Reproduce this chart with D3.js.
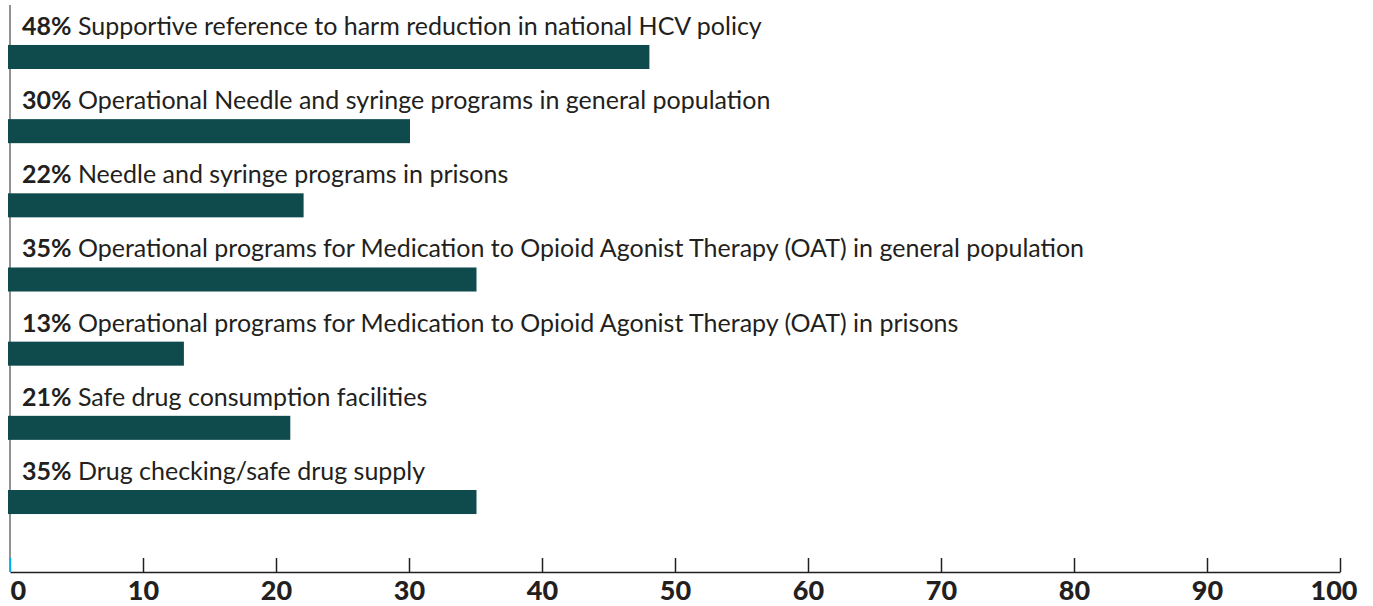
<!DOCTYPE html>
<html>
<head>
<meta charset="utf-8">
<script src="https://cdn.jsdelivr.net/npm/d3@7"></script>
<style>
  body { margin: 0; background: #fff; }
  text { font-family: Lato, "Open Sans", sans-serif; fill: #231f20; }
</style>
</head>
<body>
<div id="chart"></div>
<script>
// data
var categories = [
  "Supportive reference to harm reduction in national HCV policy",
  "Operational Needle and syringe programs in general population",
  "Needle and syringe programs in prisons",
  "Operational programs for Medication to Opioid Agonist Therapy (OAT) in general population",
  "Operational programs for Medication to Opioid Agonist Therapy (OAT) in prisons",
  "Safe drug consumption facilities",
  "Drug checking/safe drug supply"
];
var values = [48, 30, 22, 35, 13, 21, 35];
var tickValues = [0, 10, 20, 30, 40, 50, 60, 70, 80, 90, 100];

function init() {
  var w = 1373;
  var h = 606;
  var axisY = 572;

  var dataset = categories.map(function(c, i) {
    return { label: c, value: values[i] };
  });

  var xScale = d3.scaleLinear()
    .domain([0, 100])
    .range([10, 1340]);

  // band scale: bar height 24, step ~74
  var yScale = d3.scaleBand()
    .domain(categories)
    .range([19.9, 539.1])
    .paddingInner(0.676)
    .paddingOuter(0.338);

  var svg = d3.select("#chart")
    .append("svg")
    .attr("width", w)
    .attr("height", h);

  // vertical baseline
  svg.append("line")
    .attr("x1", xScale(0))
    .attr("x2", xScale(0))
    .attr("y1", 5)
    .attr("y2", axisY)
    .attr("stroke", "#6d6e71")
    .attr("stroke-width", 1.5);

  // bars
  svg.selectAll("rect.bar")
    .data(dataset)
    .enter()
    .append("rect")
    .attr("class", "bar")
    .attr("x", xScale(0) - 2)
    .attr("y", function(d) { return yScale(d.label); })
    .attr("width", function(d) { return xScale(d.value) - xScale(0) + 3; })
    .attr("height", yScale.bandwidth())
    .attr("fill", "#0f4a4c");

  // labels above bars
  var labels = svg.selectAll("text.label")
    .data(dataset)
    .enter()
    .append("text")
    .attr("class", "label")
    .attr("x", xScale(0) + 12)
    .attr("y", function(d) { return yScale(d.label) - 10; })
    .style("font-size", "25px");

  labels.append("tspan")
    .style("font-weight", "bold")
    .text(function(d) { return d.value + "%"; });

  labels.append("tspan")
    .text(function(d) { return " " + d.label; });

  // x axis
  var xAxis = d3.axisBottom(xScale)
    .tickValues(tickValues)
    .tickSizeInner(-14)
    .tickSizeOuter(0)
    .tickPadding(9);

  var gx = svg.append("g")
    .attr("transform", "translate(0," + axisY + ")")
    .call(xAxis);

  gx.select(".domain")
    .attr("stroke", "#231f20")
    .attr("stroke-width", 1.5);

  gx.selectAll(".tick line")
    .attr("stroke", function(d) { return d === 0 ? "#00aeef" : "#231f20"; })
    .attr("stroke-width", 1.5);

  gx.selectAll(".tick text")
    .attr("fill", "#231f20")
    .style("font-family", "Lato, sans-serif")
    .style("font-size", "27px")
    .style("font-weight", "900")
    .attr("text-anchor", function(d) {
      return d === 0 ? "start" : (d === 100 ? "end" : "middle");
    })
    .attr("x", function(d) {
      return d === 100 ? 17 : 0;
    });
}

window.onload = init;
</script>
</body>
</html>
